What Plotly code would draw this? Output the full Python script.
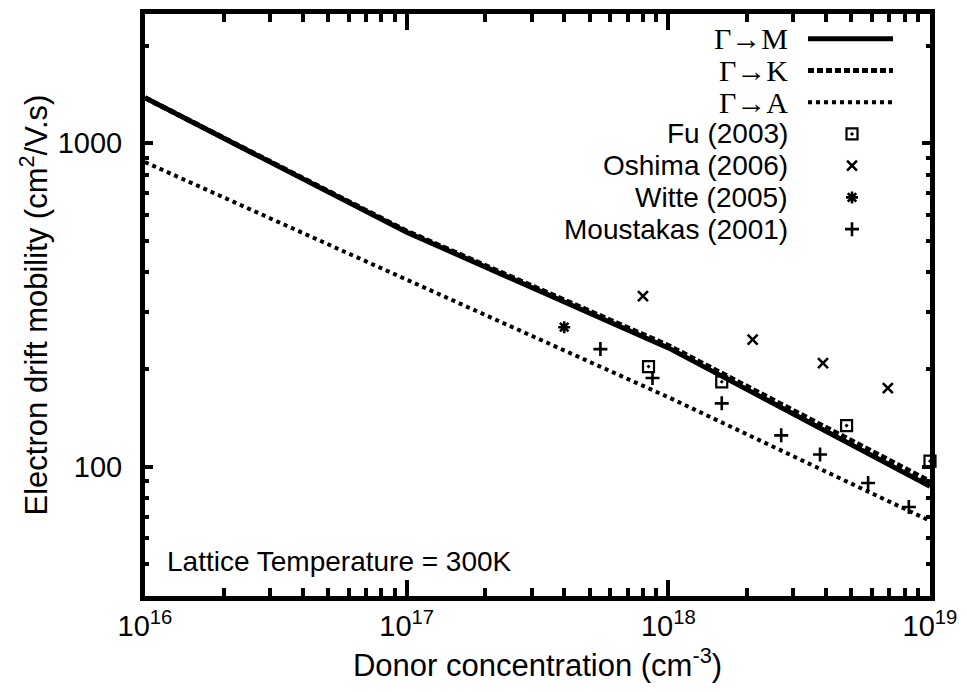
import plotly.graph_objects as go

# Calculated drift mobility vs donor concentration (300 K)
conc_calc = [1e16, 1e17, 1e18, 1e19]
mu_gm = [1383, 531, 233, 87]     # Γ→M
mu_gk = [1383, 535, 237, 90]     # Γ→K
mu_ga = [875, 378, 164, 68]      # Γ→A

# Experimental data
fu_x = [8.4e17, 1.6e18, 4.8e18, 1.0e19]
fu_y = [204, 183, 134, 104]
oshima_x = [8.0e17, 2.1e18, 3.9e18, 6.9e18]
oshima_y = [337, 247, 209, 175]
witte_x = [4.0e17]
witte_y = [270]
moustakas_x = [5.5e17, 8.7e17, 1.6e18, 2.7e18, 3.8e18, 5.8e18, 8.3e18]
moustakas_y = [231, 188, 157, 125, 109, 89, 75]

x_ticks = [1e16, 1e17, 1e18, 1e19]
x_ticktext = ["10<sup>16</sup>", "10<sup>17</sup>", "10<sup>18</sup>", "10<sup>19</sup>"]
y_ticks = [100, 1000]
y_ticktext = ["100", "1000"]

x_minor = [m * 10 ** e for e in (16, 17, 18) for m in range(2, 10)]
y_minor = [m * 10 ** e for e in (1, 2, 3) for m in range(2, 10)]

SANS = "Liberation Sans, Arial, sans-serif"
SERIF = "Liberation Serif, Times New Roman, serif"
FS = 28
FS_AX = 29
FS_TITLE = 31

W, H = 967, 692
L, R, T, B = 145, 37, 9, 96

fig = go.Figure()

fig.add_trace(go.Scatter(x=conc_calc, y=mu_gk, mode="lines",
                         line=dict(color="black", width=5, dash="6px,3px")))
fig.add_trace(go.Scatter(x=conc_calc, y=mu_ga, mode="lines",
                         line=dict(color="black", width=4, dash="4px,4px")))
fig.add_trace(go.Scatter(x=conc_calc, y=mu_gm, mode="lines",
                         line=dict(color="black", width=5)))

mk_fu = dict(symbol="square-open-dot", size=11, color="black", line=dict(width=2.2, color="black"))
mk_osh = dict(symbol="x-thin-open", size=10, color="black", line=dict(width=2.6, color="black"))
mk_wit = dict(symbol="asterisk-open", size=10, color="black", line=dict(width=2.6, color="black"))
mk_mou = dict(symbol="cross-thin-open", size=10, color="black", line=dict(width=2.6, color="black"))

fig.add_trace(go.Scatter(x=fu_x, y=fu_y, mode="markers", marker=mk_fu, cliponaxis=False))
fig.add_trace(go.Scatter(x=oshima_x, y=oshima_y, mode="markers", marker=mk_osh, cliponaxis=False))
fig.add_trace(go.Scatter(x=witte_x, y=witte_y, mode="markers", marker=mk_wit, cliponaxis=False))
fig.add_trace(go.Scatter(x=moustakas_x, y=moustakas_y, mode="markers", marker=mk_mou, cliponaxis=False))

# Key (text right-aligned, sample to its right), drawn on an overlay unit axis
pw, ph = W - L - R, H - T - B


def px_x(px):
    return (px - L) / pw


def px_y(py):
    return (H - B - py) / ph


key_rows = [
    ("Γ→M", SERIF, dict(mode="lines", line=dict(color="black", width=5))),
    ("Γ→K", SERIF, dict(mode="lines", line=dict(color="black", width=5, dash="6px,3px"))),
    ("Γ→A", SERIF, dict(mode="lines", line=dict(color="black", width=4, dash="4px,4px"))),
    ("Fu (2003)", SANS, dict(mode="markers", marker=mk_fu)),
    ("Oshima (2006)", SANS, dict(mode="markers", marker=mk_osh)),
    ("Witte (2005)", SANS, dict(mode="markers", marker=mk_wit)),
    ("Moustakas (2001)", SANS, dict(mode="markers", marker=mk_mou)),
]
annotations = []
for i, (label, fam, style) in enumerate(key_rows):
    yc = 34 + 32 * i
    if style["mode"] == "lines":
        xs, ys = [px_x(808), px_x(893)], [px_y(yc), px_y(yc)]
    else:
        xs, ys = [px_x(852)], [px_y(yc)]
    fig.add_trace(go.Scatter(x=xs, y=ys, xaxis="x2", yaxis="y2", cliponaxis=False, **style))
    annotations.append(dict(x=px_x(790), y=px_y(yc), xref="x2", yref="y2", text=label,
                            showarrow=False, xanchor="right", yanchor="middle",
                            font=dict(family=fam, size=FS + (2 if fam == SERIF else 0), color="black")))

annotations.append(dict(x=px_x(165), y=px_y(561), xref="x2", yref="y2",
                        text="Lattice Temperature = 300K", showarrow=False,
                        xanchor="left", yanchor="middle",
                        font=dict(family=SANS, size=FS, color="black")))

axis_common = dict(showline=True, linewidth=5, linecolor="black", mirror="ticks",
                   ticks="inside", tickcolor="black", showgrid=False, zeroline=False,
                   tickfont=dict(family=SANS, size=FS_AX, color="black"))

fig.update_layout(
    width=W, height=H,
    margin=dict(l=L, r=R, t=T, b=B),
    paper_bgcolor="white", plot_bgcolor="white",
    showlegend=False,
    annotations=annotations,
    xaxis=dict(type="log", range=[16, 19], tickmode="array", tickvals=x_ticks,
               ticktext=x_ticktext, ticklen=16, tickwidth=4,
               minor=dict(ticks="inside", tickmode="array", tickvals=x_minor,
                          ticklen=8, tickwidth=4, tickcolor="black"),
               title=dict(text="Donor concentration (cm<sup>-3</sup>)",
                          font=dict(family=SANS, size=FS_TITLE, color="black"), standoff=15),
               **axis_common),
    yaxis=dict(type="log", range=[1.6, 3.4], tickmode="array", tickvals=y_ticks,
               ticktext=y_ticktext, ticklen=8, tickwidth=4, ticklabelstandoff=12,
               minor=dict(ticks="inside", tickmode="array", tickvals=y_minor,
                          ticklen=4, tickwidth=4, tickcolor="black"),
               title=dict(text="Electron drift mobility (cm<sup>2</sup>/V.s)",
                          font=dict(family=SANS, size=FS_TITLE, color="black"), standoff=2),
               **axis_common),
    xaxis2=dict(overlaying="x", range=[0, 1], visible=False, fixedrange=True),
    yaxis2=dict(overlaying="y", range=[0, 1], visible=False, fixedrange=True),
)

fig.write_html("out.html")
